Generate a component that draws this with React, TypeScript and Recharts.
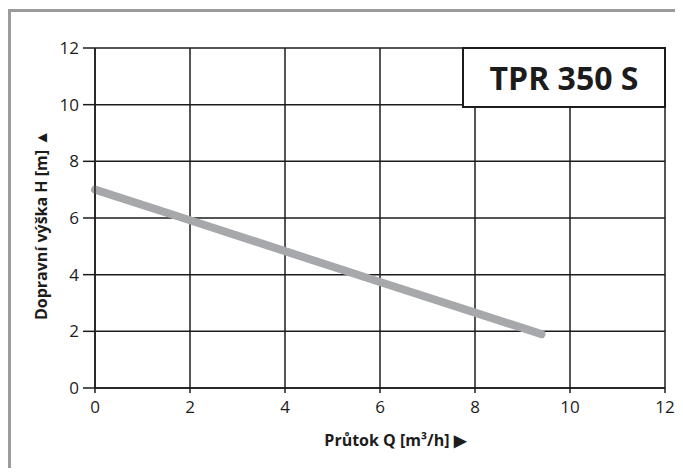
import React from 'react';
import { LineChart, Line, XAxis, YAxis, CartesianGrid } from 'recharts';

const flowQ = [0, 2, 4, 6, 8, 9.4];
const headH = [7.0, 5.92, 4.83, 3.74, 2.66, 1.9];
const xTicks = [0, 2, 4, 6, 8, 10, 12];
const yTicks = [0, 2, 4, 6, 8, 10, 12];
const title = 'TPR 350 S';
const xLabel = 'Průtok Q [m³/h]  ▶';
const yLabel = 'Dopravní výška H [m]  ▲';

const data = flowQ.map((q, i) => ({ q, h: headH[i] }));

const FONT = '"Open Sans", sans-serif';
const INK = '#1c1c1c';
const TICK_FS = 17;

const XTick = (p: any) => (
  <text x={p.x} y={p.y + 12} textAnchor="middle" fill={INK} fontSize={TICK_FS} fontFamily={FONT}>
    {p.payload.value}
  </text>
);

const YTick = (p: any) => (
  <text x={p.x} y={p.y + 6} textAnchor="end" fill={INK} fontSize={TICK_FS} fontFamily={FONT}>
    {p.payload.value}
  </text>
);

export default function App() {
  return (
    <div style={{ position: 'relative', width: 675, height: 460, fontFamily: FONT, overflow: 'hidden' }}>
      <div
        style={{
          position: 'absolute',
          left: 0,
          top: 1,
          width: 675,
          height: 459,
          borderTop: '3px solid #9b9b9b',
          borderLeft: '3px solid #9b9b9b',
          boxSizing: 'border-box',
        }}
      />
      <div style={{ position: 'absolute', left: 0, top: 0 }}>
        <LineChart width={675} height={460} data={data} margin={{ top: 40, right: 18, bottom: 0, left: 0 }}>
          <CartesianGrid stroke={INK} strokeWidth={1.5} horizontal vertical />
          <XAxis
            dataKey="q"
            type="number"
            domain={[0, 12]}
            ticks={xTicks}
            height={80}
            tickSize={5}
            tickMargin={8}
            stroke={INK}
            axisLine={{ stroke: INK, strokeWidth: 1.5 }}
            tickLine={{ stroke: INK, strokeWidth: 1.5 }}
            tick={<XTick />}
            label={{
              content: (p: any) => {
                const vb = p.viewBox;
                return (
                  <text
                    x={vb.x + vb.width / 2 + 15}
                    y={438}
                    textAnchor="middle"
                    fill={INK}
                    fontSize={16}
                    fontWeight="bold"
                    fontFamily={FONT}
                  >
                    {xLabel}
                  </text>
                );
              },
            }}
          />
          <YAxis
            type="number"
            domain={[0, 12]}
            ticks={yTicks}
            width={87}
            tickSize={12}
            tickMargin={4}
            stroke={INK}
            axisLine={{ stroke: INK, strokeWidth: 1.5 }}
            tickLine={{ stroke: INK, strokeWidth: 1.5 }}
            tick={<YTick />}
            label={{
              content: (p: any) => {
                const vb = p.viewBox;
                const cx = 39;
                const cy = vb.y + vb.height / 2 + 7;
                return (
                  <text
                    x={cx}
                    y={cy}
                    transform={`rotate(-90 ${cx} ${cy})`}
                    textAnchor="middle"
                    fill={INK}
                    fontSize={16}
                    fontWeight="bold"
                    fontFamily={FONT}
                  >
                    {yLabel}
                  </text>
                );
              },
            }}
          />
          <Line
            dataKey="h"
            type="linear"
            stroke="#a7a8ab"
            strokeWidth={8}
            strokeLinecap="round"
            strokeLinejoin="round"
            dot={false}
            activeDot={false}
            isAnimationActive={false}
          />
        </LineChart>
      </div>
      <div
        style={{
          position: 'absolute',
          left: 454,
          top: 39,
          width: 204,
          height: 61,
          boxSizing: 'border-box',
          border: `2.5px solid ${INK}`,
          background: '#fff',
          display: 'flex',
          alignItems: 'center',
          justifyContent: 'center',
          fontSize: 32,
          fontWeight: 'bold',
          color: INK,
          fontFamily: FONT,
        }}
      >
        {title}
      </div>
    </div>
  );
}
